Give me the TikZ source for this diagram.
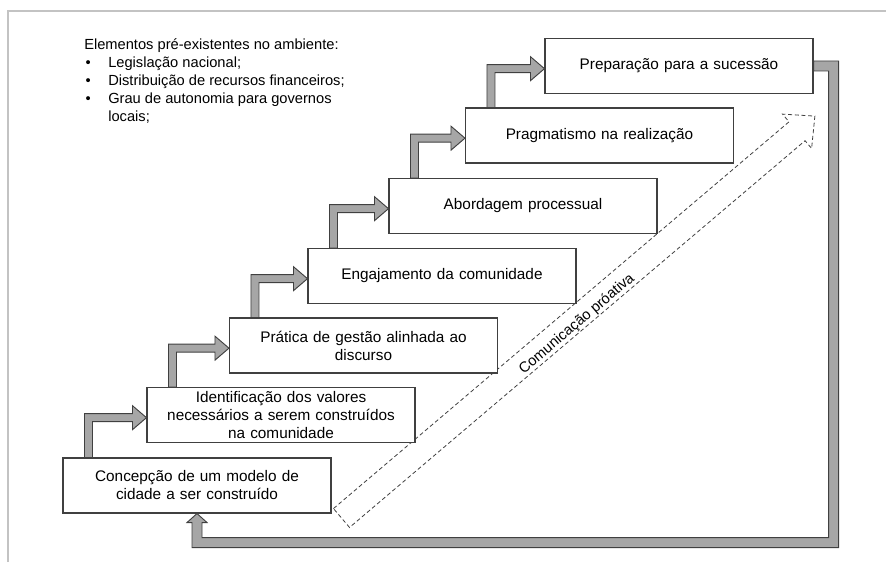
\documentclass[tikz,border=0pt]{standalone}
\usepackage{fontspec}
\setmainfont{Liberation Sans}
\usetikzlibrary{calc}
\definecolor{stairgray}{RGB}{166,166,166}
\definecolor{edgegray}{RGB}{64,64,64}
\definecolor{framegray}{RGB}{195,195,195}
\tikzstyle{stagestep}=[draw=edgegray,line width=0.8pt,fill=white,text width=190pt,align=center,minimum width=201pt,minimum height=41.25pt,inner sep=2pt,font=\fontsize{11.5}{13.5}\selectfont]
\tikzstyle{stairarrow}=[draw=edgegray,fill=stairgray,line width=0.7pt,line join=miter]
\tikzstyle{commarrow}=[draw=edgegray,dash pattern=on 3pt off 2pt,line width=0.6pt]
\tikzstyle{commlabel}=[font=\fontsize{11}{13}\selectfont,rotate=40.33,inner sep=0pt]
\tikzstyle{framerule}=[draw=framegray,line width=1pt]
\tikzstyle{envtext}=[anchor=north west,align=left,inner sep=0pt,font=\fontsize{11}{13.5}\selectfont]

% bent grey arrow from the top of one step into the left side of the next
\newcommand{\stairconnect}[2]{%
\draw[stairarrow] let \p1=(#1.north west), \p2=(#2.west) in
  (\x1+16.5pt,\y1) -- (\x1+16.5pt,\y2+1pt) -- (\x2-10.5pt,\y2+1pt) -- (\x2-10.5pt,\y2+7pt)
  -- (\x2,\y2-2pt) -- (\x2-10.5pt,\y2-11pt) -- (\x2-10.5pt,\y2-5pt) -- (\x1+22.5pt,\y2-5pt)
  -- (\x1+22.5pt,\y1) -- cycle;}

% return arrow from the last step back to the first one
\newcommand{\feedbackconnect}[2]{%
\draw[stairarrow] let \p1=(#1.east), \p2=(#2.south) in
  (\x1,\y1+3.75pt) -- (\x1+18.75pt,\y1+3.75pt) -- (\x1+18.75pt,\y2-25.5pt) -- (\x2-3.75pt,\y2-25.5pt)
  -- (\x2-3.75pt,\y2-6.75pt) -- (\x2-7.5pt,\y2-6.75pt) -- (\x2,\y2) -- (\x2+7.5pt,\y2-6.75pt)
  -- (\x2+3.75pt,\y2-6.75pt) -- (\x2+3.75pt,\y2-18pt) -- (\x1+11.25pt,\y2-18pt)
  -- (\x1+11.25pt,\y1-3.75pt) -- (\x1,\y1-3.75pt) -- cycle;}

\begin{document}
\begin{tikzpicture}[x=0.75pt,y=0.75pt]

\useasboundingbox (0,0) rectangle (886,562);
\draw[framerule] (8,0) -- (8,551) -- (886,551);

\node[envtext] (ENV) at (84,524) {Elementos pré-existentes no ambiente:\\
\makebox[18pt][l]{\hspace{1pt}\textbullet}Legislação nacional;\\
\makebox[18pt][l]{\hspace{1pt}\textbullet}Distribuição de recursos financeiros;\\
\makebox[18pt][l]{\hspace{1pt}\textbullet}Grau de autonomia para governos\\
\hspace*{18pt}locais;};

% dashed communication arrow
\coordinate (COMMTAIL) at (341.5,44);
\begin{scope}[shift={(COMMTAIL)},rotate=40.33]
\draw[commarrow] (0,12.4) -- (597.6,12.4) -- (597.6,22.5) -- (621,0) -- (597.6,-22.5) -- (597.6,-12.4) -- (0,-12.4) -- cycle;
\node[commlabel] (COMM) at (305,-4.6) {Comunicação próativa};
\end{scope}

\node[stagestep] (S1) at (197,76.5) {Concepção de um modelo de\\ cidade a ser construído};
\node[stagestep] (S2) at (281,147) {Identificação dos valores\\ necessários a serem construídos\\ na comunidade};
\node[stagestep] (S3) at (363.5,216.5) {Prática de gestão alinhada ao\\ discurso};
\node[stagestep] (S4) at (442,286) {Engajamento da comunidade};
\node[stagestep] (S5) at (523,356) {Abordagem processual};
\node[stagestep] (S6) at (599.5,426.5) {Pragmatismo na realização};
\node[stagestep] (S7) at (679,496) {Preparação para a sucessão};

\stairconnect{S1}{S2}
\stairconnect{S2}{S3}
\stairconnect{S3}{S4}
\stairconnect{S4}{S5}
\stairconnect{S5}{S6}
\stairconnect{S6}{S7}
\feedbackconnect{S7}{S1}

\end{tikzpicture}
\end{document}
